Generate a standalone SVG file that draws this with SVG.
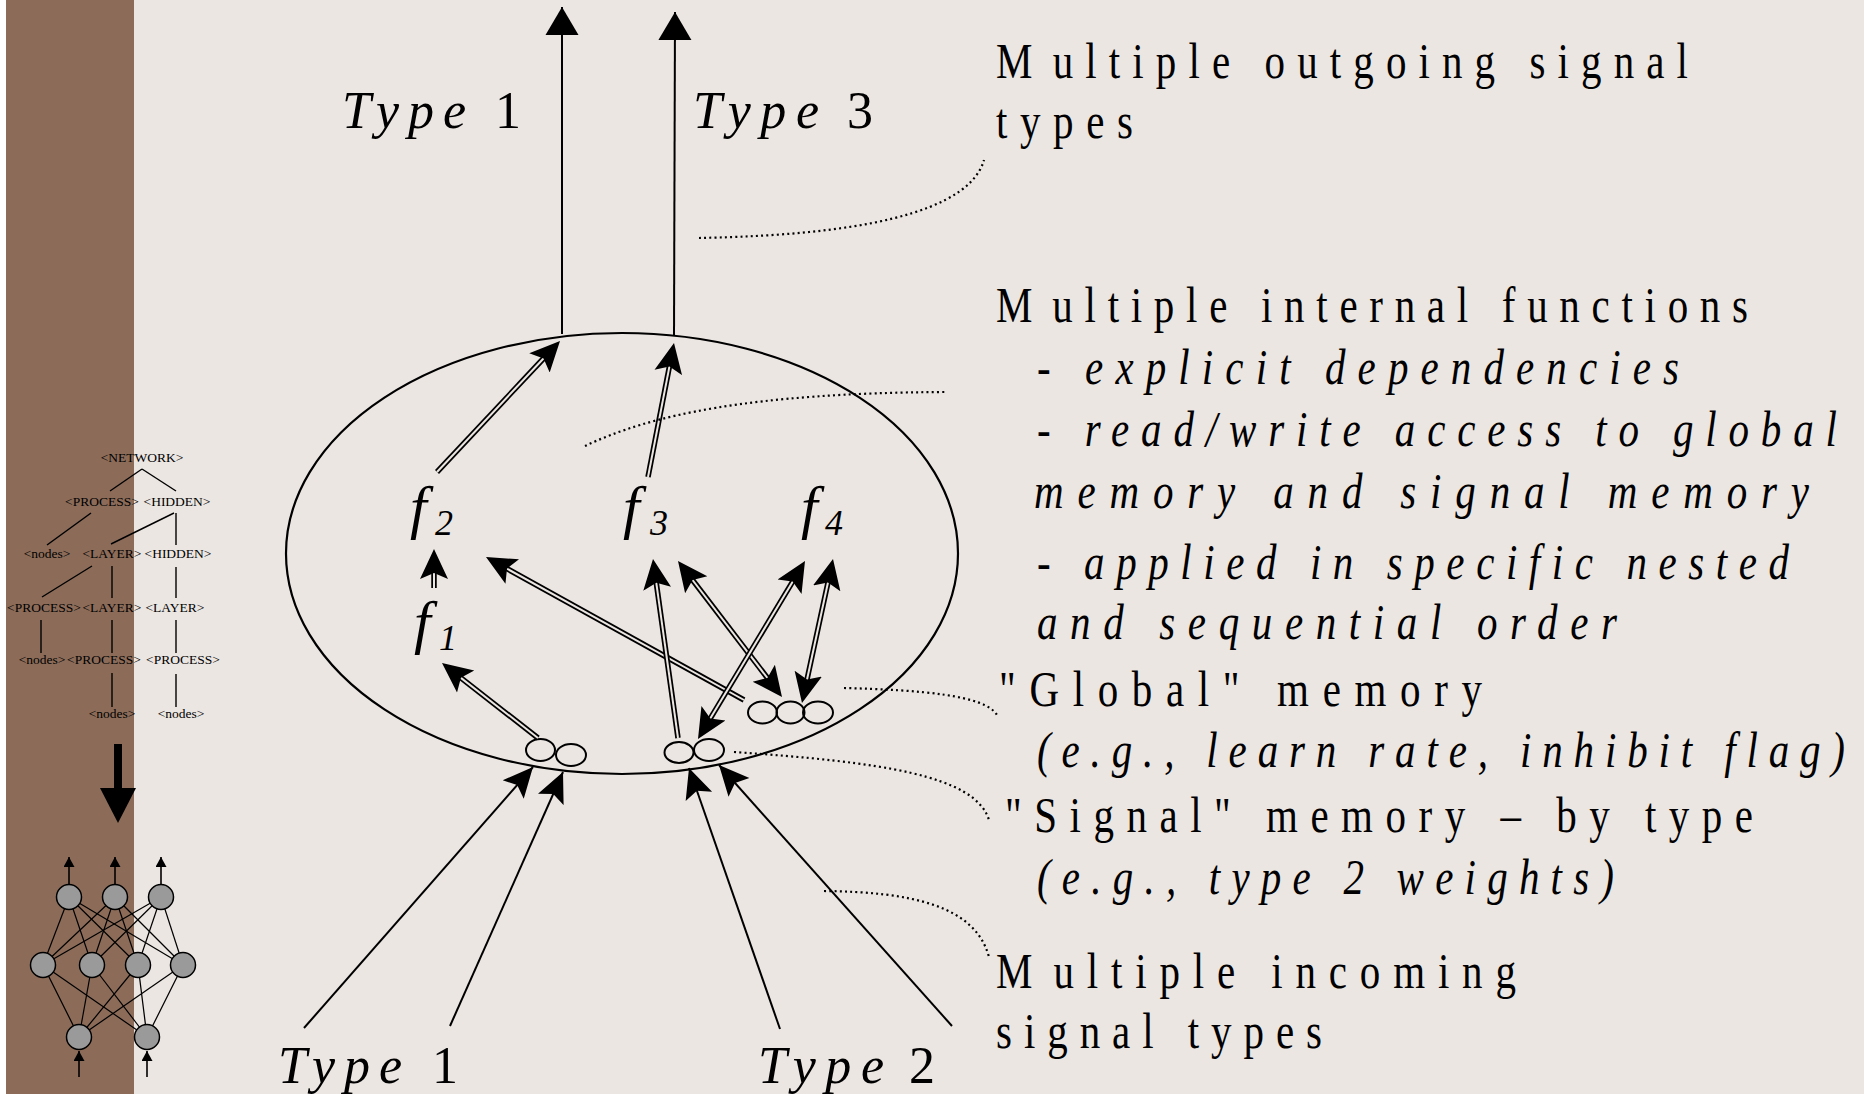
<svg xmlns="http://www.w3.org/2000/svg" width="1864" height="1094" viewBox="0 0 1864 1094">
  <style>
    .serif { font-family: "Liberation Serif", "Times New Roman", serif; fill: #000; }
    .note { font-size: 50px; }
    .lbl { font-size: 52px; }
    .tree { font-size: 13.5px; text-anchor: middle; }
    .it { font-style: italic; }
    .fn { font-size: 60px; font-style: italic; }
    .sub { font-size: 36px; font-style: italic; }
    .thin { stroke: #000; stroke-width: 2; fill: none; }
    .dbl { stroke: #000; stroke-width: 5.5; fill: none; }
    .gap { stroke: #ebe6e2; stroke-width: 2; fill: none; }
    .hd { stroke: none; fill: none; }
    .dot { stroke: #000; stroke-width: 2.2; fill: none; stroke-dasharray: 2 3.2; }
    .mem { fill: none; stroke: #000; stroke-width: 2; }
    .tl { stroke: #000; stroke-width: 1.4; }
    .nn { stroke: #000; stroke-width: 1.2; }
    .neuron { fill: #9a9a9a; stroke: #000; stroke-width: 1.5; }
  </style>
  <defs>
    <marker id="ah" markerUnits="userSpaceOnUse" viewBox="0 0 30 30" markerWidth="30" markerHeight="30" refX="30" refY="15" orient="auto-start-reverse">
      <path d="M30,15 L0,1 L6,15 L0,29 Z" fill="#000"/>
    </marker>
    <marker id="ah-out" markerUnits="userSpaceOnUse" viewBox="0 0 30 34" markerWidth="30" markerHeight="34" refX="29" refY="17" orient="auto">
      <path d="M29,17 L1,0.5 L1,33.5 Z" fill="#000"/>
    </marker>
    <marker id="ah-sm" markerUnits="userSpaceOnUse" viewBox="0 0 10 11" markerWidth="10" markerHeight="11" refX="10" refY="5.5" orient="auto">
      <path d="M10,5.5 L0,0 L0,11 Z" fill="#000"/>
    </marker>
  </defs>

  <!-- backdrop -->
  <rect x="0" y="0" width="1864" height="1094" fill="#ebe6e2"/>
  <rect x="0" y="0" width="6" height="1094" fill="#ffffff"/>
  <rect x="6" y="0" width="128" height="1094" fill="#8c6c59"/>

  <!-- side panel: configuration tree -->
  <g id="config-tree">
    <g class="tl">
      <line x1="142" y1="469" x2="110" y2="491"/>
      <line x1="142" y1="469" x2="176" y2="491"/>
      <line x1="91" y1="513" x2="47" y2="545"/>
      <line x1="174" y1="513" x2="111" y2="544"/>
      <line x1="176" y1="513" x2="176" y2="545"/>
      <line x1="92" y1="566" x2="42" y2="597"/>
      <line x1="112" y1="566" x2="112" y2="598"/>
      <line x1="176" y1="567" x2="176" y2="598"/>
      <line x1="41" y1="620" x2="41" y2="653"/>
      <line x1="112" y1="620" x2="112" y2="653"/>
      <line x1="176" y1="620" x2="176" y2="653"/>
      <line x1="112" y1="673" x2="112" y2="707"/>
      <line x1="176" y1="674" x2="176" y2="707"/>
    </g>
    <g class="serif tree">
      <text x="142" y="462">&lt;NETWORK&gt;</text>
      <text x="102" y="506">&lt;PROCESS&gt;</text>
      <text x="177" y="506">&lt;HIDDEN&gt;</text>
      <text x="47" y="558">&lt;nodes&gt;</text>
      <text x="112" y="558">&lt;LAYER&gt;</text>
      <text x="178" y="558">&lt;HIDDEN&gt;</text>
      <text x="44" y="612">&lt;PROCESS&gt;</text>
      <text x="112" y="612">&lt;LAYER&gt;</text>
      <text x="175" y="612">&lt;LAYER&gt;</text>
      <text x="42" y="664">&lt;nodes&gt;</text>
      <text x="104" y="664">&lt;PROCESS&gt;</text>
      <text x="183" y="664">&lt;PROCESS&gt;</text>
      <text x="112" y="718">&lt;nodes&gt;</text>
      <text x="181" y="718">&lt;nodes&gt;</text>
    </g>
  </g>

  <!-- side panel: big conversion arrow -->
  <g id="convert-arrow">
    <rect x="114" y="744" width="8" height="46" fill="#000"/>
    <polygon points="100,788 136,788 118,823" fill="#000"/>
  </g>

  <!-- side panel: resulting network -->
  <g id="small-network">
    <g class="nn">
      <line x1="69" y1="897" x2="43" y2="965"/>
      <line x1="69" y1="897" x2="92" y2="965"/>
      <line x1="69" y1="897" x2="138" y2="965"/>
      <line x1="69" y1="897" x2="183" y2="965"/>
      <line x1="115" y1="897" x2="43" y2="965"/>
      <line x1="115" y1="897" x2="92" y2="965"/>
      <line x1="115" y1="897" x2="138" y2="965"/>
      <line x1="115" y1="897" x2="183" y2="965"/>
      <line x1="161" y1="897" x2="43" y2="965"/>
      <line x1="161" y1="897" x2="92" y2="965"/>
      <line x1="161" y1="897" x2="138" y2="965"/>
      <line x1="161" y1="897" x2="183" y2="965"/>
      <line x1="79" y1="1037" x2="43" y2="965"/>
      <line x1="79" y1="1037" x2="92" y2="965"/>
      <line x1="79" y1="1037" x2="138" y2="965"/>
      <line x1="79" y1="1037" x2="183" y2="965"/>
      <line x1="147" y1="1037" x2="43" y2="965"/>
      <line x1="147" y1="1037" x2="92" y2="965"/>
      <line x1="147" y1="1037" x2="138" y2="965"/>
      <line x1="147" y1="1037" x2="183" y2="965"/>
    </g>
    <g class="nn" style="stroke-width:1.6">
      <line x1="69" y1="884" x2="69" y2="857" marker-end="url(#ah-sm)"/>
      <line x1="115" y1="884" x2="115" y2="857" marker-end="url(#ah-sm)"/>
      <line x1="161" y1="884" x2="161" y2="857" marker-end="url(#ah-sm)"/>
      <line x1="79" y1="1077" x2="79" y2="1051" marker-end="url(#ah-sm)"/>
      <line x1="147" y1="1077" x2="147" y2="1051" marker-end="url(#ah-sm)"/>
    </g>
    <circle class="neuron" cx="69" cy="897" r="12.5"/>
    <circle class="neuron" cx="115" cy="897" r="12.5"/>
    <circle class="neuron" cx="161" cy="897" r="12.5"/>
    <circle class="neuron" cx="43" cy="965" r="12.5"/>
    <circle class="neuron" cx="92" cy="965" r="12.5"/>
    <circle class="neuron" cx="138" cy="965" r="12.5"/>
    <circle class="neuron" cx="183" cy="965" r="12.5"/>
    <circle class="neuron" cx="79" cy="1037" r="12.5"/>
    <circle class="neuron" cx="147" cy="1037" r="12.5"/>
  </g>

  <!-- processing unit -->
  <g id="unit">
    <ellipse cx="622" cy="553.5" rx="336" ry="220.5" fill="none" stroke="#000" stroke-width="2.2"/>
  </g>

  <g id="f1" class="serif">
    <text class="fn" x="414" y="642">f</text>
    <text class="sub" x="439" y="650">1</text>
  </g>
  <g id="f2" class="serif">
    <text class="fn" x="410" y="527">f</text>
    <text class="sub" x="435" y="535">2</text>
  </g>
  <g id="f3" class="serif">
    <text class="fn" x="623" y="527">f</text>
    <text class="sub" x="650" y="535">3</text>
  </g>
  <g id="f4" class="serif">
    <text class="fn" x="801" y="527">f</text>
    <text class="sub" x="825" y="535">4</text>
  </g>

  <g id="signal-memory-type1">
    <ellipse class="mem" cx="540.5" cy="750" rx="14.5" ry="11"/>
    <ellipse class="mem" cx="571" cy="755" rx="15" ry="11"/>
  </g>
  <g id="signal-memory-type2">
    <ellipse class="mem" cx="679" cy="752.5" rx="14.5" ry="10.5"/>
    <ellipse class="mem" cx="709" cy="750" rx="15" ry="11"/>
  </g>
  <g id="global-memory">
    <ellipse class="mem" cx="762.5" cy="712.5" rx="14.5" ry="11"/>
    <ellipse class="mem" cx="790.5" cy="712.5" rx="14" ry="11"/>
    <ellipse class="mem" cx="818" cy="712.5" rx="15" ry="11"/>
  </g>

  <!-- connectors -->
  <g id="connectors">
    <!-- outgoing signals -->
    <line class="thin" x1="562" y1="334" x2="562" y2="7" marker-end="url(#ah-out)"/>
    <line class="thin" x1="674" y1="336" x2="675" y2="12" marker-end="url(#ah-out)"/>

    <!-- incoming signals -->
    <line class="thin" x1="304" y1="1028" x2="533" y2="767" marker-end="url(#ah)"/>
    <line class="thin" x1="450" y1="1026" x2="563" y2="772" marker-end="url(#ah)"/>
    <line class="thin" x1="780" y1="1029" x2="689" y2="768" marker-end="url(#ah)"/>
    <line class="thin" x1="952" y1="1026" x2="719" y2="765" marker-end="url(#ah)"/>

    <!-- internal dependencies: doubled shafts -->
    <g>
      <path class="dbl" d="M538,738 L459.3,676.6"/>
      <path class="gap" d="M538,738 L459.3,676.6"/>
      <path class="hd" d="M538,738 L442,663" marker-end="url(#ah)"/>
    </g>
    <g>
      <path class="dbl" d="M434,588 L434,571"/>
      <path class="gap" d="M434,588 L434,571"/>
      <path class="hd" d="M434,588 L434,549" marker-end="url(#ah)"/>
    </g>
    <g>
      <path class="dbl" d="M744,700 L505.2,567.7"/>
      <path class="gap" d="M744,700 L505.2,567.7"/>
      <path class="hd" d="M744,700 L486,557" marker-end="url(#ah)"/>
    </g>
    <g>
      <path class="dbl" d="M437,472 L544.9,357"/>
      <path class="gap" d="M437,472 L544.9,357"/>
      <path class="hd" d="M437,472 L560,341" marker-end="url(#ah)"/>
    </g>
    <g>
      <path class="dbl" d="M648,477 L669.8,364.6"/>
      <path class="gap" d="M648,477 L669.8,364.6"/>
      <path class="hd" d="M648,477 L674,343" marker-end="url(#ah)"/>
    </g>
    <g>
      <path class="dbl" d="M678,738 L656,580.8"/>
      <path class="gap" d="M678,738 L656,580.8"/>
      <path class="hd" d="M678,738 L653,559" marker-end="url(#ah)"/>
    </g>
    <g>
      <path class="dbl" d="M691.4,578.5 L768.6,679.5"/>
      <path class="gap" d="M691.4,578.5 L768.6,679.5"/>
      <path class="hd" d="M678,561 L782,697" marker-start="url(#ah)" marker-end="url(#ah)"/>
    </g>
    <g>
      <path class="dbl" d="M793.7,579.9 L709.3,720.1"/>
      <path class="gap" d="M793.7,579.9 L709.3,720.1"/>
      <path class="hd" d="M805,561 L698,739" marker-start="url(#ah)" marker-end="url(#ah)"/>
    </g>
    <g>
      <path class="dbl" d="M828.4,580.5 L806.6,681.5"/>
      <path class="gap" d="M828.4,580.5 L806.6,681.5"/>
      <path class="hd" d="M833,559 L802,703" marker-start="url(#ah)" marker-end="url(#ah)"/>
    </g>

    <!-- dotted call-out leaders -->
    <path class="dot" d="M699,238 C800,236 965,226 984,160"/>
    <path class="dot" d="M585,446 C650,415 750,393 945,392"/>
    <path class="dot" d="M844,688 C920,690 985,695 997,715"/>
    <path class="dot" d="M734,752 C880,762 975,775 989,820"/>
    <path class="dot" d="M824,891 C910,892 975,905 989,957"/>
  </g>

  <!-- signal type labels -->
  <g id="type-labels" class="serif lbl">
    <text class="it" x="342" y="128" textLength="124" lengthAdjust="spacing">Type</text>
    <text x="495" y="128">1</text>
    <text class="it" x="693" y="128" textLength="126" lengthAdjust="spacing">Type</text>
    <text x="847" y="128">3</text>
    <text class="it" x="278" y="1083" textLength="124" lengthAdjust="spacing">Type</text>
    <text x="432" y="1083">1</text>
    <text class="it" x="758" y="1083" textLength="126" lengthAdjust="spacing">Type</text>
    <text x="909" y="1083">2</text>
  </g>

  <!-- explanatory notes: condensed glyphs, spaced out to the line widths -->
  <g id="notes" class="serif note">
    <text transform="translate(996,78) scale(0.82,1)" textLength="843.9" lengthAdjust="spacing">M<tspan dx="10">ultiple outgoing signal</tspan></text>
    <text transform="translate(996,138) scale(0.82,1)" textLength="167.1" lengthAdjust="spacing">types</text>
    <text transform="translate(996,322) scale(0.82,1)" textLength="917.1" lengthAdjust="spacing">M<tspan dx="10">ultiple internal functions</tspan></text>
    <text class="it" transform="translate(1037,384) scale(0.82,1)" textLength="782.9" lengthAdjust="spacing">- explicit dependencies</text>
    <text class="it" transform="translate(1037,446) scale(0.82,1)" textLength="975.6" lengthAdjust="spacing">- read/write access to global</text>
    <text class="it" transform="translate(1034,508) scale(0.82,1)" textLength="945.1" lengthAdjust="spacing">memory and signal memory</text>
    <text class="it" transform="translate(1037,579) scale(0.82,1)" textLength="917.1" lengthAdjust="spacing">- applied in specific nested</text>
    <text class="it" transform="translate(1037,639) scale(0.82,1)" textLength="707.3" lengthAdjust="spacing">and sequential order</text>
    <text transform="translate(999,706) scale(0.82,1)" textLength="589" lengthAdjust="spacing">"Global" memory</text>
    <text class="it" transform="translate(1037,767) scale(0.82,1)" textLength="985.4" lengthAdjust="spacing">(e.g., learn rate, inhibit flag)</text>
    <text transform="translate(1005,832) scale(0.82,1)" textLength="912.2" lengthAdjust="spacing">"Signal" memory – by type</text>
    <text class="it" transform="translate(1037,894) scale(0.82,1)" textLength="703.7" lengthAdjust="spacing">(e.g., type 2 weights)</text>
    <text transform="translate(996,988) scale(0.82,1)" textLength="634.1" lengthAdjust="spacing">M<tspan dx="10">ultiple incoming</tspan></text>
    <text transform="translate(996,1048) scale(0.82,1)" textLength="397.6" lengthAdjust="spacing">signal types</text>
  </g>
</svg>
